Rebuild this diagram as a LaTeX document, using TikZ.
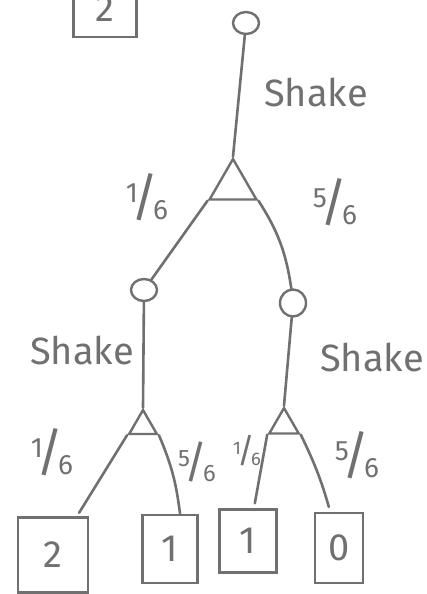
\documentclass[tikz,border=0pt]{standalone}
\usepackage{fontspec}
\setmainfont{Fira Sans}
\usetikzlibrary{shapes.geometric,calc}
\definecolor{pencil}{HTML}{707070}
\newcommand\hfr[2]{{\fontsize{28}{28}\selectfont\raisebox{0.45em}{#1}\kern-0.22em{\fontsize{52}{52}\selectfont/}\kern-0.2em\raisebox{-0.15em}{#2}}}
\begin{document}
\begin{tikzpicture}[x=1pt,y=-1pt,
  every node/.style={text=pencil},
  line/.style={draw=pencil,line width=2.6pt,line cap=round},
  chance/.style={ellipse,draw=pencil,line width=2.4pt,minimum width=26,minimum height=22,inner sep=0},
  tri/.style={regular polygon,regular polygon sides=3,draw=pencil,line width=2.4pt,inner sep=0},
  outcome/.style={rectangle,draw=pencil,line width=2.6pt,inner sep=0,font=\fontsize{38}{38}\selectfont},
  lab/.style={font=\fontsize{38}{38}\selectfont},
  prob/.style={inner sep=0}
]
\useasboundingbox[fill=white] (0,0) rectangle (427,594);
% nodes
\node[outcome,minimum width=63,minimum height=50,text depth=6pt] (b0) at (105,12) {2};
\node[chance] (c0) at (246,23) {};
\node[tri,minimum size=54] (t0) at (233,186) {};
\node[chance] (c1) at (144,290) {};
\node[chance,minimum height=27] (c2) at (293,303) {};
\node[tri,minimum size=32] (t1) at (143,426) {};
\node[tri,minimum size=34] (t2) at (284,425) {};
\node[outcome,minimum width=70,minimum height=75] (b1) at (53,555) {2};
\node[outcome,minimum width=55,minimum height=68] (b2) at (170,549) {1};
\node[outcome,minimum width=57,minimum height=63] (b3) at (248,541) {1};
\node[outcome,minimum width=48,minimum height=70] (b4) at (339,548) {0};
% labels
\node[lab] (s0) at (316,92) {Shake};
\node[lab] (s1) at (82,350) {Shake};
\node[lab] (s2) at (372,357) {Shake};
\node[prob] (p1) at (147,197) {\hfr16};
\node[prob] (p2) at (335,202) {\hfr56};
\node[prob] (p3) at (52,452) {\hfr16};
\node[prob,scale=0.85] (p4) at (197,462) {\hfr56};
\node[prob,scale=0.65] (p5) at (247,451) {\hfr16};
\node[prob] (p6) at (357,455) {\hfr56};
% connectors
\draw[line] (c0) -- (t0.corner 1);
\draw[line] (t0.corner 2) -- (c1);
\draw[line] (t0.corner 3) to[bend left=12] (c2);
\draw[line] (c1) -- (t1.corner 1);
\draw[line] (c2) -- (t2.corner 1);
\draw[line,shorten >=4pt] (t1.corner 2) -- (b1);
\draw[line] (t1.corner 3) to[bend left=8] ($(b2.north)+(10,0)$);
\draw[line,shorten >=5pt] (t2.corner 2) -- (b3);
\draw[line,shorten >=5pt] (t2.corner 3) to[bend left=5] (b4);
\end{tikzpicture}
\end{document}
